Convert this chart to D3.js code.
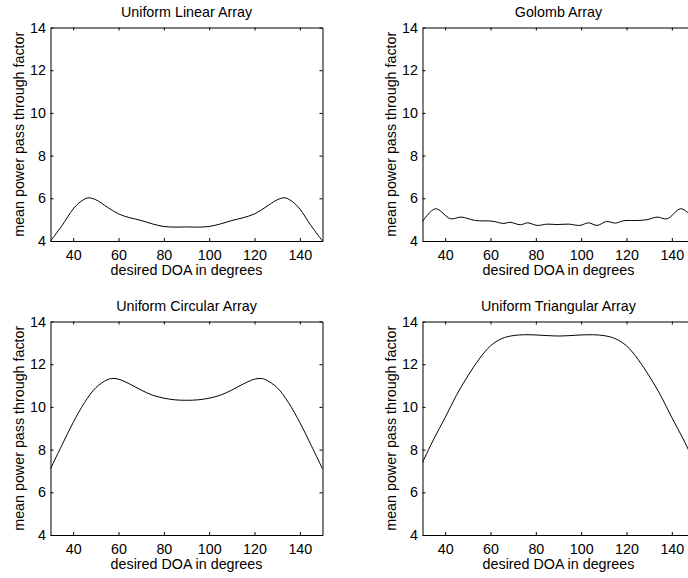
<!DOCTYPE html>
<html>
<head>
<meta charset="utf-8">
<script src="https://cdn.jsdelivr.net/npm/d3@7"></script>
<style>
  html, body { margin: 0; padding: 0; background: #fff; }
  svg { display: block; }
  text { font-family: "Liberation Sans", Arial, Helvetica, sans-serif; fill: #000; }
</style>
</head>
<body>
<svg id="chart" width="688" height="578"></svg>
<script>
// ---- data ----
const xTicks = [40, 60, 80, 100, 120, 140];
const yTicks = [4, 6, 8, 10, 12, 14];
const xDomain = [30, 150];
const yDomain = [4, 14];

const titles = ["Uniform Linear Array", "Golomb Array", "Uniform Circular Array", "Uniform Triangular Array"];
const xLabel = "desired DOA in degrees";
const yLabel = "mean power pass through factor";

const ulaDeg = [30, 35, 40, 43, 46.5, 50, 55, 60, 65, 70, 75, 80, 85, 90, 95, 100, 105, 110, 115, 120, 125, 130, 133.5, 137, 140, 145, 150];
const ulaVal = [4.0, 4.71, 5.5, 5.82, 6.02, 5.93, 5.59, 5.27, 5.09, 4.96, 4.8, 4.68, 4.65, 4.66, 4.65, 4.68, 4.8, 4.96, 5.09, 5.27, 5.59, 5.93, 6.02, 5.82, 5.5, 4.71, 4.0];

const golDeg = [30, 35.7, 42.4, 47, 53.4, 60.7, 65.9, 68.5, 73.2, 76.4, 80.6, 85, 89.4, 94.5, 99.4, 103.3, 107, 111.2, 115.1, 118.8, 124.7, 129.1, 133.5, 137.9, 143.8, 146.8, 150];
const golVal = [4.91, 5.51, 5.04, 5.12, 4.96, 4.93, 4.82, 4.88, 4.76, 4.85, 4.73, 4.79, 4.77, 4.79, 4.73, 4.85, 4.73, 4.91, 4.84, 4.95, 4.96, 5.0, 5.12, 5.04, 5.51, 5.35, 4.91];

const ucaDeg = [30, 35, 40, 45, 50, 55, 57, 60, 65, 70, 75, 80, 85, 90, 95, 100, 105, 110, 115, 120, 123, 125, 130, 135, 140, 145, 150];
const ucaVal = [7.1, 8.2, 9.27, 10.2, 10.9, 11.27, 11.33, 11.3, 11.07, 10.79, 10.55, 10.41, 10.33, 10.31, 10.33, 10.41, 10.55, 10.79, 11.07, 11.3, 11.33, 11.27, 10.9, 10.2, 9.27, 8.2, 7.1];

const utaDeg = [30, 35, 40, 45, 50, 55, 60, 65, 70, 75, 80, 85, 90, 95, 100, 105, 110, 115, 120, 125, 130, 135, 140, 145, 150];
const utaVal = [7.4, 8.5, 9.5, 10.55, 11.45, 12.24, 12.86, 13.2, 13.34, 13.38, 13.37, 13.34, 13.32, 13.34, 13.37, 13.38, 13.34, 13.2, 12.86, 12.24, 11.45, 10.55, 9.5, 8.5, 7.4];

const seriesDeg = [ulaDeg, golDeg, ucaDeg, utaDeg];
const seriesVal = [ulaVal, golVal, ucaVal, utaVal];

// ---- layout ----
const svg = d3.select("#chart");
svg.append("rect").attr("width", 688).attr("height", 578).attr("fill", "#fff");

const W = 272, H = 213.5;
const origins = [[50, 27], [422, 27], [50, 321], [422, 321]];
const FS = 14.3;

const x = d3.scaleLinear().domain(xDomain).range([0, W]);
const y = d3.scaleLinear().domain(yDomain).range([H, 0]);

origins.forEach((o, i) => {
  const g = svg.append("g").attr("transform", `translate(${o[0] + 0.5},${o[1] + 0.5})`);

  const styleAxis = sel => {
    sel.select(".domain").attr("stroke", "#000").attr("stroke-width", 1);
    sel.selectAll(".tick line").attr("stroke", "#000").attr("stroke-width", 1);
    sel.selectAll("text").attr("font-size", FS).attr("fill", "#000")
       .attr("font-family", '"Liberation Sans", Arial, sans-serif');
  };

  g.append("g").attr("transform", `translate(0,${H})`)
    .call(d3.axisBottom(x).tickValues(xTicks).tickSizeInner(-3).tickSizeOuter(0).tickPadding(8.5))
    .call(styleAxis);
  g.append("g")
    .call(d3.axisTop(x).tickValues(xTicks).tickSizeInner(-3).tickSizeOuter(0).tickFormat(""))
    .call(styleAxis);
  g.append("g")
    .call(d3.axisLeft(y).tickValues(yTicks).tickSizeInner(-3).tickSizeOuter(0).tickPadding(4.5))
    .call(styleAxis);
  g.append("g").attr("transform", `translate(${W},0)`)
    .call(d3.axisRight(y).tickValues(yTicks).tickSizeInner(-3).tickSizeOuter(0).tickFormat(""))
    .call(styleAxis);

  const pts = seriesDeg[i].map((d, k) => [d, seriesVal[i][k]]);
  const line = d3.line().x(d => x(d[0])).y(d => y(d[1])).curve(d3.curveCatmullRom.alpha(0.5));
  g.append("path").attr("d", line(pts)).attr("fill", "none")
    .attr("stroke", "#000").attr("stroke-width", 1);

  // title
  g.append("text").attr("x", W / 2).attr("y", -10.5).attr("text-anchor", "middle")
    .attr("font-size", FS).text(titles[i]);
  // x label
  g.append("text").attr("x", W / 2).attr("y", H + 34).attr("text-anchor", "middle")
    .attr("font-size", FS).text(xLabel);
  // y label
  g.append("text").attr("transform", `translate(-27,${H / 2}) rotate(-90)`)
    .attr("text-anchor", "middle").attr("font-size", FS).text(yLabel);
});
</script>
</body>
</html>
